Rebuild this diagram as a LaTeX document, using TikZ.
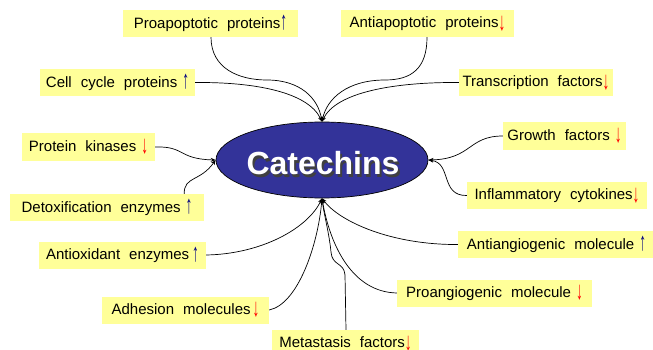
\documentclass[tikz,border=0pt]{standalone}
\usepackage{fontspec}
\setmainfont{Liberation Sans}
\usetikzlibrary{shapes.geometric,arrows.meta}
\definecolor{boxyellow}{HTML}{FFFF99}
\definecolor{catblue}{HTML}{333399}
\definecolor{upblue}{HTML}{000080}
\definecolor{downred}{HTML}{FF0000}
\newcommand{\upar}{\raisebox{-1.5pt}{\scalebox{0.9}[1.7]{\textcolor{upblue}{↑}}}}
\newcommand{\dnar}{\raisebox{-2.5pt}{\scalebox{0.9}[1.7]{\textcolor{downred}{↓}}}}
\begin{document}
\begin{tikzpicture}[x=1pt,y=-1pt,
  lbl/.style={fill=boxyellow, inner sep=0pt, minimum height=27pt,
    font=\fontsize{15}{18}\selectfont, execute at begin node={\spaceskip=9pt plus 1pt\relax}},
  conn/.style={draw=black, line width=0.7pt, -{Stealth[length=5pt,width=4pt]}},
  cattext/.style={font=\fontsize{32}{36}\selectfont\bfseries, anchor=base, inner sep=0pt}
  ]
\useasboundingbox[fill=white] (0,0) rectangle (653,350);

% central ellipse
\node[ellipse, draw=black, line width=0.7pt, fill=catblue, minimum width=212pt, minimum height=76pt, inner sep=0pt] (cat) at (322,160) {};
\node[cattext, text=black!75] (catsh) at (325,177) {Catechins};
\node[cattext, text=white] (catt) at (323,175) {Catechins};

% labels
\node[lbl, minimum width=175pt] (pro) at (210.5,23.5) {Proapoptotic proteins\upar};
\node[lbl, minimum width=173pt] (anti) at (427.5,23.5) {Antiapoptotic proteins\dnar};
\node[lbl, minimum width=155pt] (cc) at (117.5,82.5) {Cell cycle proteins\hspace{5pt}\upar};
\node[lbl, minimum width=154pt] (tf) at (536,82.5) {Transcription factors\dnar};
\node[lbl, minimum width=133pt] (pk) at (88.5,147) {Protein kinases\hspace{5pt}\dnar};
\node[lbl, minimum width=194pt] (dt) at (107,207.5) {Detoxification enzymes\hspace{5pt}\upar};
\node[lbl, minimum width=167pt] (ao) at (122.5,255) {Antioxidant enzymes\hspace{3pt}\upar};
\node[lbl, minimum width=167pt] (ad) at (185.5,310) {Adhesion molecules\hspace{2pt}\dnar};
\node[lbl, minimum width=147pt] (mf) at (345.5,343.5) {Metastasis factors\dnar};
\node[lbl, minimum width=123pt] (gf) at (564.5,136) {Growth factors\hspace{5pt}\dnar};
\node[lbl, minimum width=180pt] (inf) at (557,195.5) {Inflammatory cytokines\dnar};
\node[lbl, minimum width=197pt] (aa) at (556.5,244.5) {Antiangiogenic molecule\hspace{5pt}\upar};
\node[lbl, minimum width=195pt] (pa) at (494.5,293) {Proangiogenic molecule\hspace{5pt}\dnar};

% connectors to top
\draw[conn] ([xshift=0.5pt]pro.south) .. controls (211,68) and (238,80) .. (267,80)
  .. controls (300,80) and (318,98) .. (cat.north);
\draw[conn] ([xshift=-0.5pt]anti.south) .. controls (427,68) and (412,80) .. (385,80)
  .. controls (348,80) and (327,98) .. (cat.north);
\draw[conn] (cc.east) .. controls (255,82) and (308,92) .. (cat.north);
\draw[conn] (tf.west) .. controls (395,82) and (336,92) .. (cat.north);

% connectors to left
\draw[conn] (pk.east) .. controls (185,146) and (178,159) .. (cat.west);
\draw[conn] ([xshift=-20pt]dt.north east) .. controls (184,176) and (200,182) .. (cat.west);

% connectors to right
\draw[conn] (gf.west) .. controls (468,136) and (472,159) .. (cat.east);
\draw[conn] (inf.west) .. controls (440,196) and (452,163) .. (cat.east);

% connectors to bottom
\draw[conn] (ao.east) .. controls (262,254) and (308,228) .. (cat.south);
\draw[conn] (ad.east) .. controls (298,304) and (318,245) .. (cat.south);
\draw[conn] ([xshift=0.5pt]mf.north) -- (345,275) .. controls (344,262) and (332,266) .. (331,252)
  .. controls (329,232) and (324,215) .. (cat.south);
\draw[conn] (aa.west) .. controls (392,245) and (340,222) .. (cat.south);
\draw[conn] (pa.west) .. controls (352,292) and (330,245) .. (cat.south);
\end{tikzpicture}
\end{document}
